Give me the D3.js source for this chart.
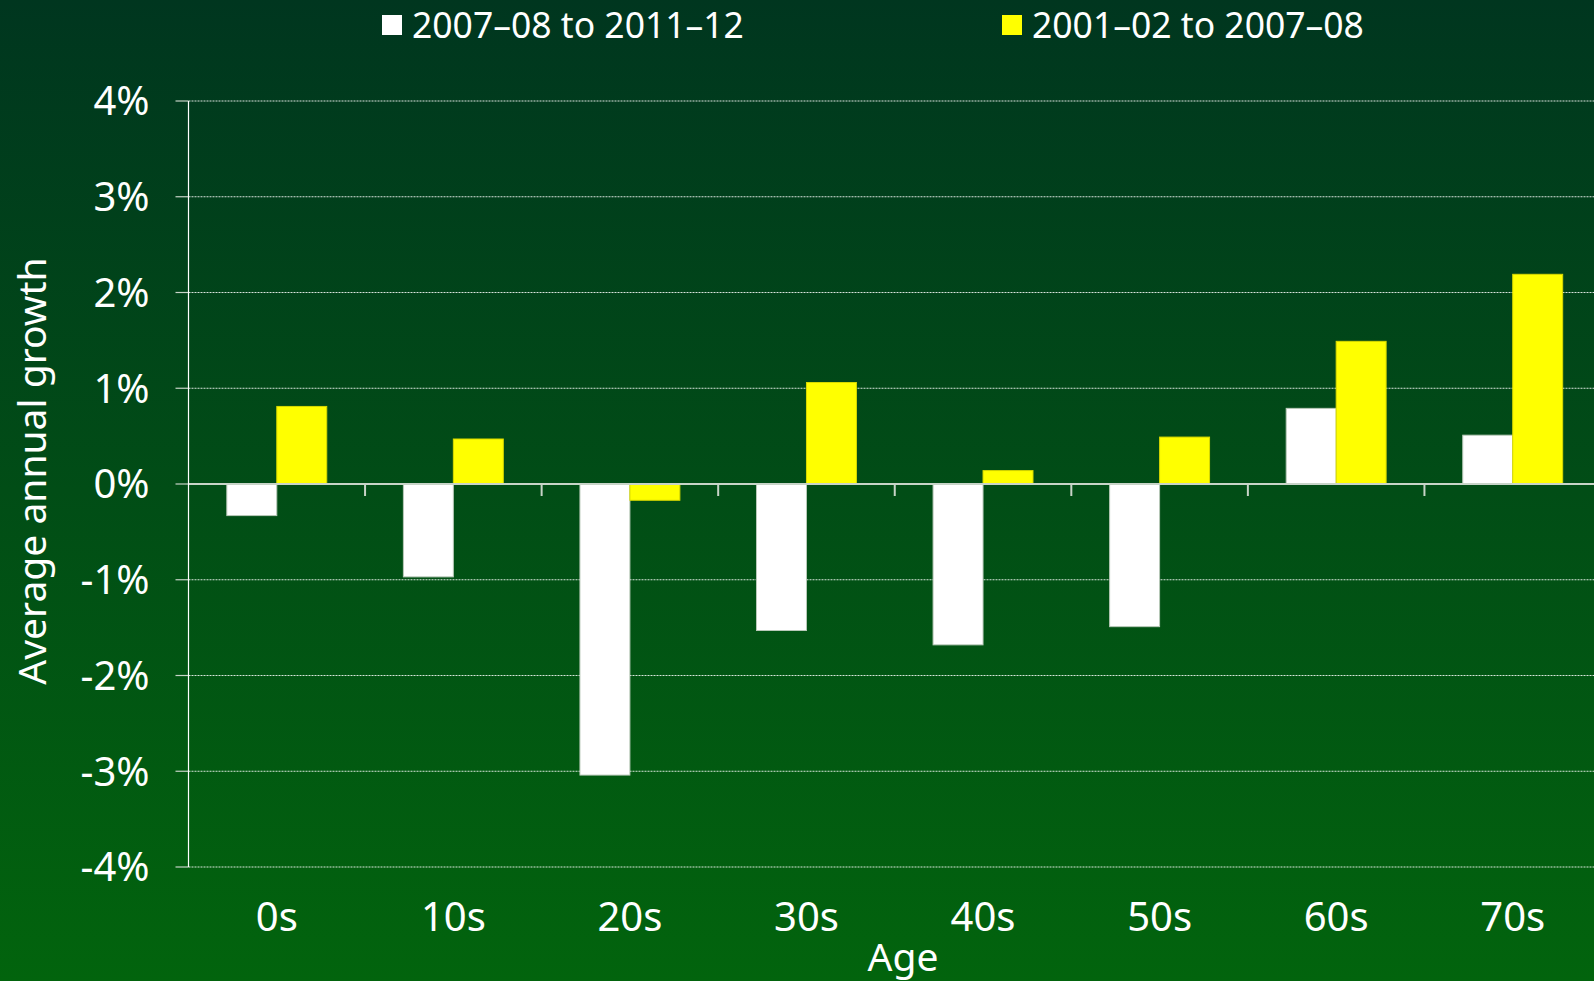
<!DOCTYPE html>
<html>
<head>
<meta charset="utf-8">
<script src="https://cdn.jsdelivr.net/npm/d3@7"></script>
<style>
  body { margin: 0; background: #004a18; }
  text { font-family: "Noto Sans", "Open Sans", sans-serif; fill: #fff; }
</style>
</head>
<body>
<div id="chart"></div>
<script>
// data
var categories = ["0s", "10s", "20s", "30s", "40s", "50s", "60s", "70s"];
var seriesNames = ["2007\u201308 to 2011\u201312", "2001\u201302 to 2007\u201308"];
var recent = [-0.33, -0.97, -3.04, -1.53, -1.68, -1.49, 0.79, 0.51];
var earlier = [0.81, 0.47, -0.17, 1.06, 0.14, 0.49, 1.49, 2.19];
var yTicks = [-4, -3, -2, -1, 0, 1, 2, 3, 4];
var seriesColors = ["#ffffff", "#ffff00"];
var seriesStrokes = ["#b9c9b9", "#d8d800"];

drawChart();

function drawChart() {
	var W = 1594, H = 981;
	// set the dimensions and margins of the graph
	var margin = {top: 101, right: -7, bottom: 114, left: 188.5},
		width = W - margin.left - margin.right,
		height = H - margin.top - margin.bottom;

	var svg = d3.select("#chart")
		.append("svg")
		.attr("width", W)
		.attr("height", H);

	// background gradient
	var grad = svg.append("defs").append("linearGradient")
		.attr("id", "bg")
		.attr("x1", 0).attr("y1", 0).attr("x2", 0).attr("y2", 1);
	grad.append("stop").attr("offset", "0%").attr("stop-color", "#00361f");
	grad.append("stop").attr("offset", "100%").attr("stop-color", "#02640d");
	svg.append("rect")
		.attr("width", W)
		.attr("height", H)
		.attr("fill", "url(#bg)");

	var g = svg.append("g")
		.attr("transform", "translate(" + margin.left + "," + margin.top + ")");

	// set the ranges
	var x0 = d3.scaleBand().domain(categories).range([0, width]);
	var groupWidth = x0.bandwidth() * 0.566;
	var x1 = d3.scaleBand().domain([0, 1]).range([0, groupWidth]);
	var y = d3.scaleLinear().domain([-4, 4]).range([height, 0]);

	// gridlines (dotted)
	g.selectAll(".grid")
		.data(yTicks.filter(function(d) { return d !== 0; }))
		.enter().append("line")
		.attr("x1", 0)
		.attr("x2", W - margin.left)
		.attr("y1", function(d) { return y(d); })
		.attr("y2", function(d) { return y(d); })
		.attr("stroke", "#ffffff")
		.attr("stroke-opacity", 0.85)
		.attr("stroke-width", 1)
		.attr("stroke-dasharray", "2,1");

	// y tick marks and labels
	g.selectAll(".ytick")
		.data(yTicks)
		.enter().append("line")
		.attr("x1", -13)
		.attr("x2", 0)
		.attr("y1", function(d) { return y(d); })
		.attr("y2", function(d) { return y(d); })
		.attr("stroke", "#c8d4c8")
		.attr("stroke-width", 1.2);
	g.selectAll(".ylab")
		.data(yTicks)
		.enter().append("text")
		.attr("x", -39)
		.attr("y", function(d) { return y(d); })
		.attr("dy", "0.36em")
		.attr("text-anchor", "end")
		.style("font-size", "40px")
		.text(function(d) { return d + "%"; });

	// bars
	var data = [recent, earlier];
	data.forEach(function(vals, s) {
		g.selectAll(".bar" + s)
			.data(vals)
			.enter().append("rect")
			.attr("x", function(d, i) { return x0(categories[i]) + (x0.bandwidth() - groupWidth) / 2 + x1(s); })
			.attr("width", x1.bandwidth())
			.attr("y", function(d) { return y(Math.max(0, d)); })
			.attr("height", function(d) { return Math.abs(y(d) - y(0)); })
			.attr("fill", seriesColors[s])
			.attr("stroke", seriesStrokes[s])
			.attr("stroke-width", 1);
	});

	// zero line and category ticks
	g.append("line")
		.attr("x1", 0)
		.attr("x2", W - margin.left)
		.attr("y1", y(0))
		.attr("y2", y(0))
		.attr("stroke", "#c8d4c8")
		.attr("stroke-width", 2);
	g.selectAll(".xtick")
		.data(categories.slice(1))
		.enter().append("line")
		.attr("x1", function(d) { return x0(d); })
		.attr("x2", function(d) { return x0(d); })
		.attr("y1", y(0))
		.attr("y2", y(0) + 12)
		.attr("stroke", "#c8d4c8")
		.attr("stroke-width", 2);

	// y axis line
	g.append("line")
		.attr("x1", 0).attr("x2", 0)
		.attr("y1", 0).attr("y2", height)
		.attr("stroke", "#ffffff")
		.attr("stroke-width", 1.2);

	// category labels
	g.selectAll(".xlab")
		.data(categories)
		.enter().append("text")
		.attr("x", function(d) { return x0(d) + x0.bandwidth() / 2; })
		.attr("y", height + 64)
		.attr("text-anchor", "middle")
		.style("font-size", "40px")
		.text(function(d) { return d; });

	// axis titles
	svg.append("text")
		.attr("x", 903)
		.attr("y", 971)
		.attr("text-anchor", "middle")
		.style("font-size", "39px")
		.text("Age");
	svg.append("text")
		.attr("transform", "translate(46,471) rotate(-90)")
		.attr("text-anchor", "middle")
		.style("font-size", "39px")
		.text("Average annual growth");

	// legend
	var legendX = [382, 1002];
	seriesNames.forEach(function(name, s) {
		svg.append("rect")
			.attr("x", legendX[s])
			.attr("y", 15)
			.attr("width", 20)
			.attr("height", 20)
			.attr("fill", seriesColors[s]);
		svg.append("text")
			.attr("x", legendX[s] + 30)
			.attr("y", 38)
			.style("font-size", "35.5px")
			.text(name);
	});
}
</script>
</body>
</html>
